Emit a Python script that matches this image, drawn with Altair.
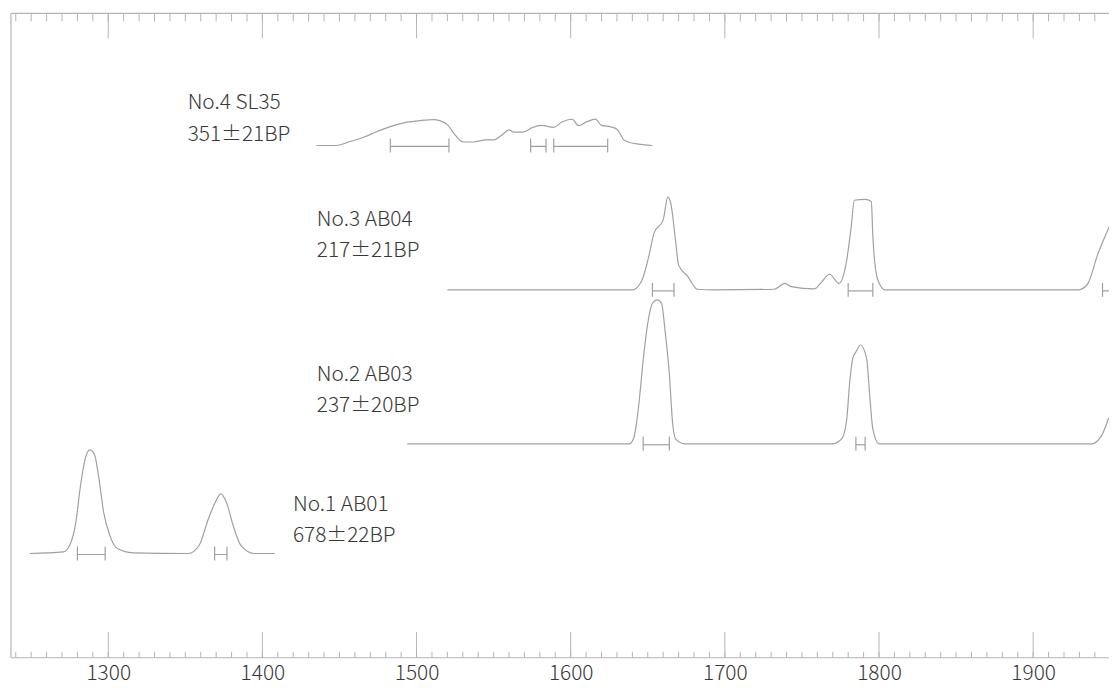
import altair as alt
import pandas as pd

# ---- axis ----
x_domain = [1236.9, 1949.2]
major_ticks = [1300, 1400, 1500, 1600, 1700, 1800, 1900]
minor_ticks = list(range(1240, 1950, 10))

# ---- samples ----
sample_ids = ["No.4", "No.3", "No.2", "No.1"]
sample_names = ["No.4 SL35", "No.3 AB04", "No.2 AB03", "No.1 AB01"]
sample_ages = ["351±21BP", "217±21BP", "237±20BP", "678±22BP"]

# probability curves (calendar year, relative probability)
no4_years = [1435, 1448, 1457, 1466, 1475, 1483, 1494, 1502, 1511, 1515, 1520, 1524, 1528,
             1531, 1537, 1545, 1550, 1555, 1560, 1563, 1569, 1575, 1581, 1589, 1594, 1601,
             1605, 1610, 1616, 1620, 1626, 1630, 1635, 1642, 1653]
no4_prob = [0, 0, 0.04, 0.085, 0.145, 0.19, 0.235, 0.25, 0.26, 0.25, 0.21, 0.128, 0.053,
            0.035, 0.035, 0.057, 0.056, 0.10, 0.158, 0.134, 0.135, 0.18, 0.203, 0.182, 0.233,
            0.264, 0.20, 0.235, 0.266, 0.203, 0.188, 0.163, 0.049, 0.018, 0]

no3_years = [1520, 1640, 1646, 1651, 1654, 1660, 1663, 1665, 1668, 1670, 1676, 1682, 1693,
             1732, 1739, 1743, 1758, 1762, 1768, 1774, 1779, 1782, 1784, 1791, 1795, 1796,
             1799, 1804, 1929, 1935, 1942, 1950]
no3_prob = [0, 0, 0.09, 0.36, 0.57, 0.706, 0.935, 0.866, 0.50, 0.25, 0.135, 0.007, 0,
            0.007, 0.066, 0.034, 0.01, 0.066, 0.158, 0.066, 0.295, 0.64, 0.903, 0.912, 0.89, 0.546,
            0.112, 0, 0, 0.052, 0.363, 0.66]

no2_years = [1494, 1638, 1641, 1644, 1647, 1650, 1653, 1656, 1659, 1661, 1664, 1666, 1668,
             1674, 1770, 1776, 1779, 1781, 1783, 1785, 1788, 1792, 1794, 1796, 1800, 1938,
             1944, 1949]
no2_prob = [0, 0, 0.063, 0.37, 0.84, 1.215, 1.413, 1.45, 1.413, 1.17, 0.70, 0.23, 0.05,
            0, 0, 0.054, 0.24, 0.62, 0.86, 0.924, 0.995, 0.855, 0.48, 0.15, 0, 0,
            0.072, 0.26]

no1_years = [1249, 1271, 1275, 1279, 1282, 1285, 1288, 1291, 1294, 1297, 1301, 1306, 1316,
             1352, 1359, 1365, 1370, 1373, 1377, 1381, 1386, 1395, 1408]
no1_prob = [0, 0.017, 0.083, 0.317, 0.683, 0.95, 1.043, 1.00, 0.75, 0.417, 0.183, 0.05, 0.007,
            0, 0.083, 0.35, 0.533, 0.60, 0.50, 0.283, 0.083, 0, 0]

# 1-sigma calibrated ranges (start, end)
no4_ranges = [(1483, 1521), (1574, 1584), (1589, 1624)]
no3_ranges = [(1653, 1667), (1780, 1796), (1945, 1960)]
no2_ranges = [(1647, 1664), (1785, 1791)]
no1_ranges = [(1280, 1298), (1369, 1377)]

# ---- layout (vertical stacking level of each sample, label anchors) ----
PLOT_W, PLOT_H = 1106, 649
y_domain = [0.05, 6.54]
baselines = [5.21, 3.755, 2.205, 1.10]
label_x = [1351.5, 1435.3, 1435.3, 1419.8]
label_y1 = [5.58, 4.40, 2.84, 1.53]
label_y2 = [5.26, 4.09, 2.53, 1.22]
cap = 0.07

curves = [(no4_years, no4_prob), (no3_years, no3_prob), (no2_years, no2_prob), (no1_years, no1_prob)]
ranges = [no4_ranges, no3_ranges, no2_ranges, no1_ranges]

curve_rows, bar_rows, cap_rows, text_rows = [], [], [], []
for i, sid in enumerate(sample_ids):
    yrs, pr = curves[i]
    for yv, p in zip(yrs, pr):
        curve_rows.append({"sample": sid, "year": yv, "level": baselines[i] + p})
    for a, b in ranges[i]:
        bar_rows.append({"sample": sid, "year": a, "year2": b, "level": baselines[i] - 0.01})
        for e in (a, b):
            cap_rows.append({"sample": sid, "year": e, "level": baselines[i] - cap, "level2": baselines[i] + cap})
    text_rows.append({"year": label_x[i], "level": label_y1[i], "label": sample_names[i]})
    text_rows.append({"year": label_x[i], "level": label_y2[i], "label": sample_ages[i]})

curve_df = pd.DataFrame(curve_rows)
bar_df = pd.DataFrame(bar_rows)
cap_df = pd.DataFrame(cap_rows)
text_df = pd.DataFrame(text_rows)
major_df = pd.DataFrame({"year": major_ticks})
minor_df = pd.DataFrame({"year": minor_ticks})

LINE = "#a0a0a0"
FRAME = "#b4b4b4"
TEXT = "#383838"
FONT = "Noto Sans CJK JP"

xs = alt.Scale(domain=x_domain, nice=False, zero=False)
ys = alt.Scale(domain=y_domain, nice=False, zero=False)
x_axis = alt.Axis(values=major_ticks, format="d", ticks=False, domain=False, grid=False,
                  labelFont=FONT, labelFontSize=21, labelFontWeight=300, labelColor=TEXT,
                  labelPadding=5, title=None)
X = alt.X("year:Q", scale=xs, axis=x_axis)
Y = alt.Y("level:Q", scale=ys, axis=None)

lines = alt.Chart(curve_df).mark_line(color=LINE, strokeWidth=1.2, interpolate="monotone", clip=True).encode(
    x=X, y=Y, detail="sample:N")
bars = alt.Chart(bar_df).mark_rule(color=LINE, strokeWidth=1.2, clip=True).encode(
    x=X, x2="year2:Q", y=Y)
caps = alt.Chart(cap_df).mark_rule(color=LINE, strokeWidth=1.2, clip=True).encode(
    x=X, y=Y, y2="level2:Q")
labels = alt.Chart(text_df).mark_text(align="left", baseline="alphabetic", font=FONT,
                                      fontSize=21, fontWeight=300, color=TEXT).encode(
    x=X, y=Y, text="label:N")

bottom_major = alt.Chart(major_df).mark_rule(color=FRAME, strokeWidth=1).encode(
    x=X, y=alt.value(PLOT_H), y2=alt.value(PLOT_H - 26))
top_major = alt.Chart(major_df).mark_rule(color=FRAME, strokeWidth=1).encode(
    x=X, y=alt.value(0), y2=alt.value(25))
bottom_minor = alt.Chart(minor_df).mark_rule(color=FRAME, strokeWidth=1).encode(
    x=X, y=alt.value(PLOT_H), y2=alt.value(PLOT_H - 6))
top_minor = alt.Chart(minor_df).mark_rule(color=FRAME, strokeWidth=1).encode(
    x=X, y=alt.value(0), y2=alt.value(8))

frame_df = pd.DataFrame({"edge": ["frame"]})
top_line = alt.Chart(frame_df).mark_rule(color=FRAME, strokeWidth=1.2).encode(
    x=alt.value(0), x2=alt.value(PLOT_W), y=alt.value(0))
bottom_line = alt.Chart(frame_df).mark_rule(color=FRAME, strokeWidth=1.2).encode(
    x=alt.value(0), x2=alt.value(PLOT_W), y=alt.value(PLOT_H))
left_line = alt.Chart(frame_df).mark_rule(color=FRAME, strokeWidth=1.2).encode(
    x=alt.value(0), y=alt.value(0), y2=alt.value(PLOT_H))

chart = alt.layer(
    lines, bars, caps, labels, bottom_minor, top_minor, bottom_major, top_major,
    top_line, bottom_line, left_line
).properties(
    width=PLOT_W, height=PLOT_H,
    padding={"left": 3, "top": 3, "right": 0, "bottom": 28},
    autosize=alt.AutoSizeParams(type="none"),
    background="white",
).configure_view(stroke=None)

chart.save("out.html", embed_options={"renderer": "svg", "actions": False})
